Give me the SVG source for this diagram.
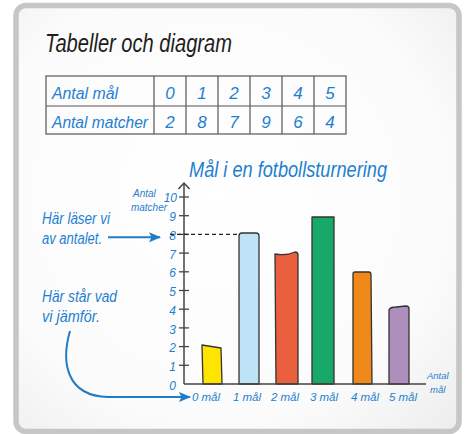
<svg xmlns="http://www.w3.org/2000/svg" width="466" height="434" viewBox="0 0 466 434">
<defs>
<radialGradient id="bg" cx="0.45" cy="0.45" r="0.75">
<stop offset="0" stop-color="#ffffff"/>
<stop offset="0.7" stop-color="#fbfbfb"/>
<stop offset="1" stop-color="#eeeeee"/>
</radialGradient>
<marker id="ah" viewBox="0 0 12 10" refX="11" refY="5" markerWidth="12" markerHeight="10" markerUnits="userSpaceOnUse" orient="auto">
<path d="M0,0 L12,5 L0,10 L2.5,5 Z" fill="#1f7cc6"/>
</marker>
<style>
.hw{font-family:"Liberation Sans",Arial,sans-serif;font-style:italic;}
.blue{fill:#1f80d0;}
.ttl{fill:#1d1d1d;}
.grid{stroke:#555;stroke-width:1.2;fill:none;}
.ax{stroke:#444;stroke-width:1.5;fill:none;}
.tick{stroke:#444;stroke-width:1.3;}
.bar{stroke:#333;stroke-width:1.3;stroke-linejoin:round;}
.arr{stroke:#1f7cc6;stroke-width:2;fill:none;marker-end:url(#ah);}
.num{font-size:17px;text-anchor:middle;}
.yl{font-size:12px;text-anchor:end;}
.xl{font-size:11.5px;text-anchor:middle;}
</style>
</defs>

<g id="frame">
<rect x="16" y="5.5" width="443" height="426" rx="10" fill="url(#bg)" stroke="#c6c6c6" stroke-width="5.5"/>
</g>

<g id="title">
<text class="hw ttl" x="45" y="52" font-size="26" textLength="187" lengthAdjust="spacingAndGlyphs">Tabeller och diagram</text>
</g>

<g id="table">
<rect class="grid" x="46" y="76" width="300" height="58"/>
<line class="grid" x1="46" y1="106" x2="346" y2="106"/>
<line class="grid" x1="154" y1="76" x2="154" y2="134"/>
<line class="grid" x1="186" y1="76" x2="186" y2="134"/>
<line class="grid" x1="218" y1="76" x2="218" y2="134"/>
<line class="grid" x1="250" y1="76" x2="250" y2="134"/>
<line class="grid" x1="282" y1="76" x2="282" y2="134"/>
<line class="grid" x1="314" y1="76" x2="314" y2="134"/>
<text class="hw blue" x="52" y="99" font-size="16" textLength="66" lengthAdjust="spacingAndGlyphs">Antal mål</text>
<text class="hw blue" x="52" y="128" font-size="16" textLength="96" lengthAdjust="spacingAndGlyphs">Antal matcher</text>
<g class="hw blue num">
<text x="170" y="99">0</text><text x="202" y="99">1</text><text x="234" y="99">2</text>
<text x="266" y="99">3</text><text x="298" y="99">4</text><text x="330" y="99">5</text>
<text x="170" y="128">2</text><text x="202" y="128">8</text><text x="234" y="128">7</text>
<text x="266" y="128">9</text><text x="298" y="128">6</text><text x="330" y="128">4</text>
</g>
</g>

<g id="chart-title">
<text class="hw blue" x="189" y="177" font-size="22" textLength="198" lengthAdjust="spacingAndGlyphs">Mål i en fotbollsturnering</text>
</g>

<g id="bars">
<path class="bar" fill="#FFE400" d="M203,384 L202,345 L221,348 L222,384 Z"/>
<path class="bar" fill="#BEE3F6" d="M239,384 L239,236 Q239,233 242,233 L256,233 Q259,233 259,236 L259,384 Z"/>
<path class="bar" fill="#EA5F3E" d="M276,384 L275,254 Q286,256 295,252 Q298,252 298,255 L298,384 Z"/>
<path class="bar" fill="#18A86A" d="M312,384 L312,217 L334,217 L334,384 Z"/>
<path class="bar" fill="#F0881A" d="M353,384 L353,274 Q353,272 355,272 L369,272 Q371,272 371,275 L372,384 Z"/>
<path class="bar" fill="#AD8EBD" d="M389,384 L389,310 Q390,307 396,307 L406,306 Q409,306 409,309 L409,384 Z"/>
</g>

<g id="axes">
<line class="ax" x1="184" y1="384" x2="184" y2="183"/>
<path class="ax" d="M178.5,189 L184,183 L189.5,189"/>
<line class="ax" x1="184" y1="384" x2="426" y2="384"/>
<g class="tick">
<line x1="179" y1="365.3" x2="189" y2="365.3"/>
<line x1="179" y1="346.6" x2="189" y2="346.6"/>
<line x1="179" y1="327.9" x2="189" y2="327.9"/>
<line x1="179" y1="309.2" x2="189" y2="309.2"/>
<line x1="179" y1="290.5" x2="189" y2="290.5"/>
<line x1="179" y1="271.8" x2="189" y2="271.8"/>
<line x1="179" y1="253.1" x2="189" y2="253.1"/>
<line x1="179" y1="234.4" x2="189" y2="234.4"/>
<line x1="179" y1="215.7" x2="189" y2="215.7"/>
<line x1="179" y1="197" x2="189" y2="197"/>
</g>
<g class="hw blue yl">
<text x="176" y="390">0</text>
<text x="176" y="371">1</text>
<text x="176" y="352">2</text>
<text x="176" y="334">3</text>
<text x="176" y="315">4</text>
<text x="176" y="296">5</text>
<text x="176" y="277">6</text>
<text x="176" y="259">7</text>
<text x="176" y="240">8</text>
<text x="176" y="221">9</text>
<text x="177" y="202">10</text>
</g>
<text class="hw blue" x="133" y="197" font-size="10">Antal</text>
<text class="hw blue" x="131" y="211" font-size="10" textLength="36" lengthAdjust="spacingAndGlyphs">matcher</text>
<text class="hw blue" x="427" y="379" font-size="9.5">Antal</text>
<text class="hw blue" x="430" y="393" font-size="9.5">mål</text>
<g class="hw blue xl">
<text x="206" y="401">0 mål</text>
<text x="247" y="401">1 mål</text>
<text x="285" y="401">2 mål</text>
<text x="324" y="401">3 mål</text>
<text x="365" y="401">4 mål</text>
<text x="403" y="401">5 mål</text>
</g>
</g>

<g id="connectors">
<line x1="170" y1="234.4" x2="239" y2="234.4" stroke="#222" stroke-width="1.3" stroke-dasharray="4,3"/>
<path class="arr" d="M108,237.3 L160,237.3"/>
<path class="arr" d="M70,331 C61,362 66,396 108,397 L190,397"/>
</g>

<g id="annotation-read">
<text class="hw blue" x="42" y="224" font-size="16" textLength="68" lengthAdjust="spacingAndGlyphs">Här läser vi</text>
<text class="hw blue" x="42" y="244" font-size="16" textLength="60" lengthAdjust="spacingAndGlyphs">av antalet.</text>
</g>
<g id="annotation-compare">
<text class="hw blue" x="42" y="302" font-size="16" textLength="75" lengthAdjust="spacingAndGlyphs">Här står vad</text>
<text class="hw blue" x="42" y="322" font-size="16" textLength="58" lengthAdjust="spacingAndGlyphs">vi jämför.</text>
</g>
</svg>
